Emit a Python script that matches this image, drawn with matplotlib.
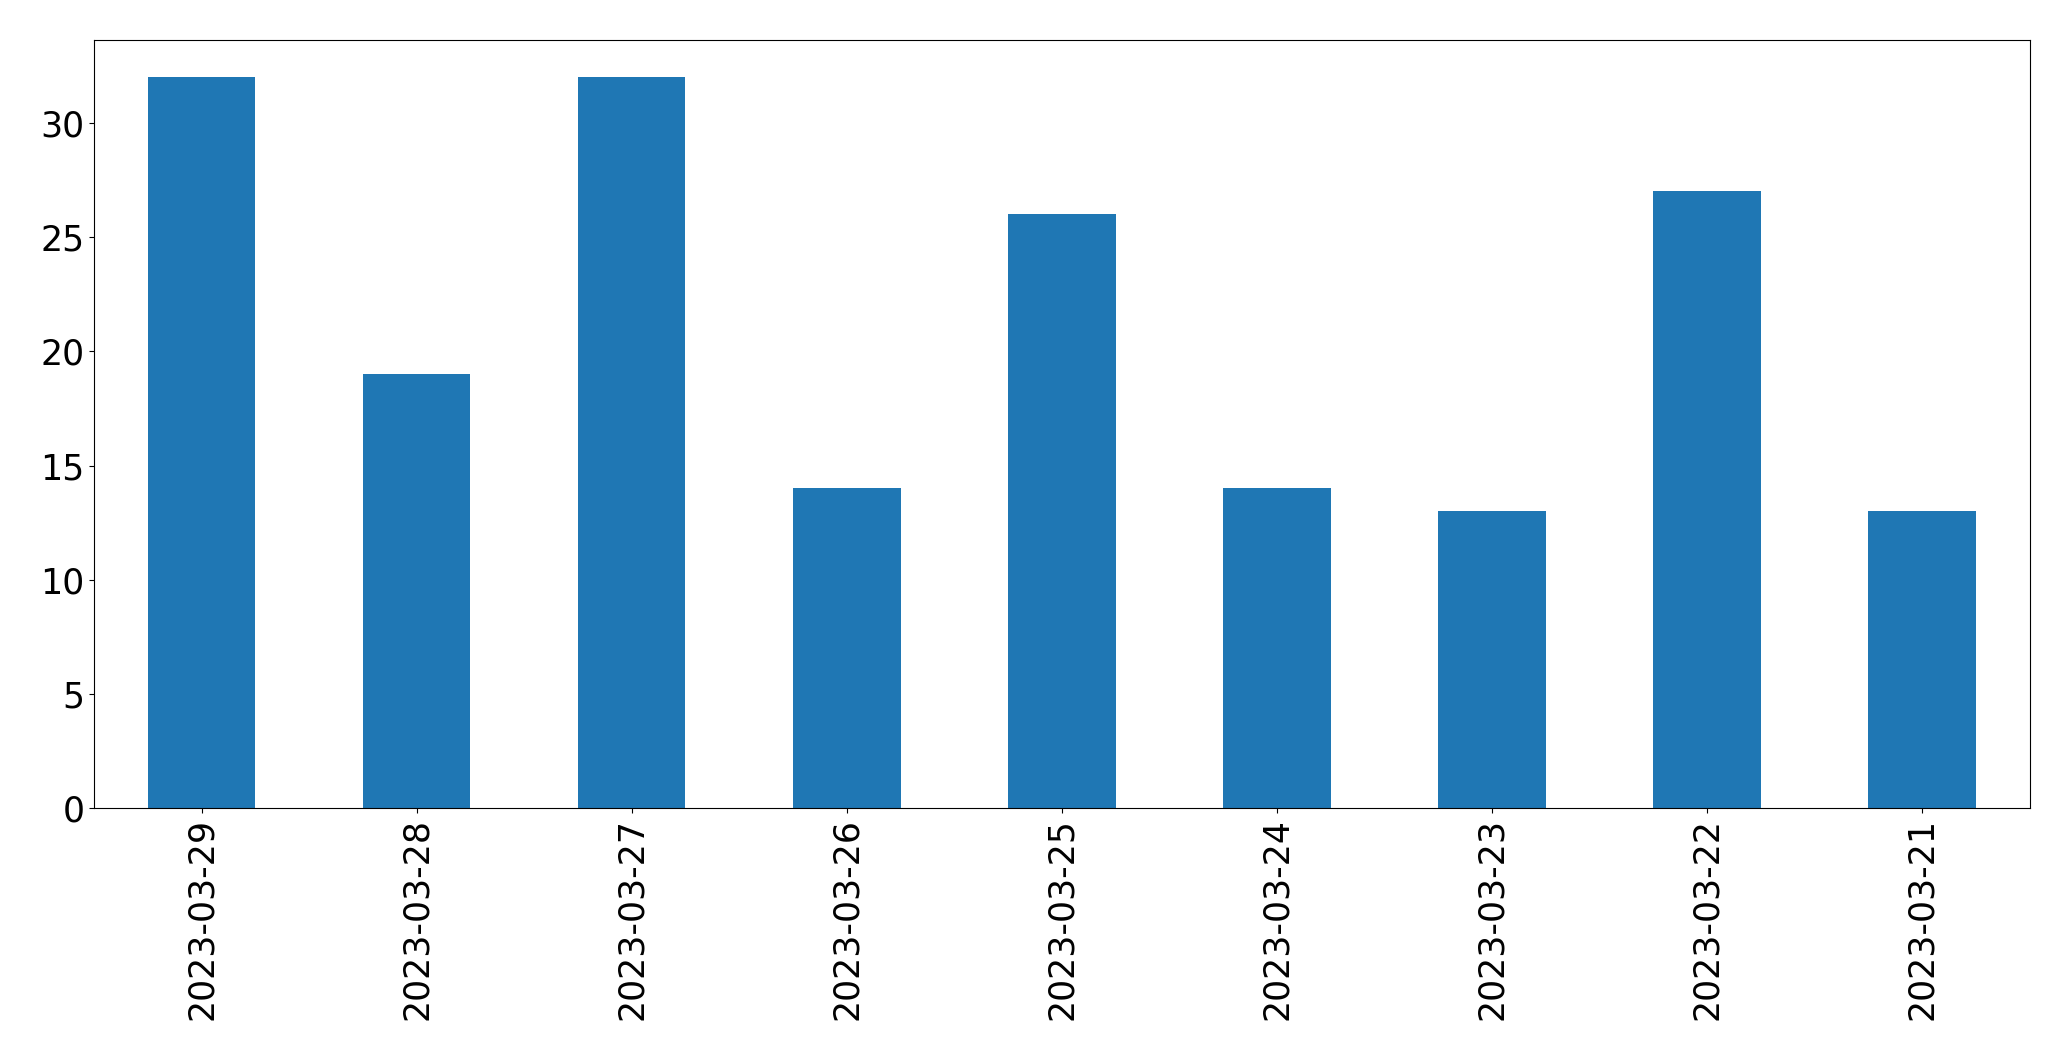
import matplotlib
matplotlib.use("Agg")
import matplotlib.pyplot as plt
import pandas as pd

dates = ['2023-03-29', '2023-03-28', '2023-03-27', '2023-03-26', '2023-03-25',
         '2023-03-24', '2023-03-23', '2023-03-22', '2023-03-21']
counts = [32, 19, 32, 14, 26, 14, 13, 27, 13]

s = pd.Series(counts, index=dates)

fig, ax = plt.subplots(figsize=(20.71, 10.61), dpi=100)
s.plot.bar(ax=ax, color='#1f77b4', fontsize=25)
ax.tick_params(axis='both', labelsize=25)
fig.subplots_adjust(left=0.0454, right=0.980, top=0.962, bottom=0.238)
fig.savefig('out.png', dpi=100)
